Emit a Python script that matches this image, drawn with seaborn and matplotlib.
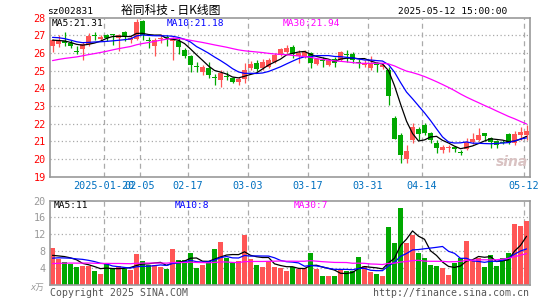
import numpy as np
import pandas as pd
import matplotlib
matplotlib.use("Agg")
import matplotlib.pyplot as plt
import seaborn as sns

sns.set_style("white")
plt.rcParams['font.family'] = ['DejaVu Sans Mono', 'Noto Sans CJK SC']

# ---------------- data ----------------
open_ = [26.42, 26.52, 26.68, 26.56, 26.12, 26.22, 26.52, 26.98, 26.78, 27.02,
         27.04, 26.84, 27.16, 26.72, 26.78, 27.80, 26.74, 26.40, 26.80, 26.88,
         26.66, 26.68, 26.15, 25.85, 25.22, 24.92, 25.17, 24.64, 24.47, 24.70,
         24.57, 24.38, 24.50, 25.13, 25.41, 25.13, 25.22, 25.50, 25.89, 26.07,
         26.36, 25.80, 25.79, 25.99, 25.38, 25.60, 25.32, 25.64, 25.60, 25.92,
         25.92, 25.45, 25.30, 25.13, 25.34, 25.22, 25.05, 22.30, 21.35, 20.00,
         21.05, 21.68, 21.92, 21.45, 20.93, 20.52, 20.62, 20.68, 20.40, 20.55,
         20.95, 21.08, 21.45, 21.17, 21.00, 20.97, 21.42, 20.90, 21.35, 21.38]
high = [26.80, 27.02, 27.20, 26.74, 26.40, 26.64, 27.15, 27.20, 27.00, 27.10,
        27.10, 27.10, 27.24, 27.00, 27.90, 27.88, 26.92, 26.83, 27.10, 27.00,
        26.92, 26.83, 26.26, 25.90, 25.50, 25.32, 25.47, 24.80, 25.04, 24.94,
        24.66, 24.66, 25.45, 25.52, 25.60, 25.64, 25.70, 25.98, 26.30, 26.45,
        26.45, 26.17, 26.17, 26.05, 25.70, 25.79, 25.65, 25.79, 26.12, 26.17,
        26.07, 25.64, 25.60, 25.83, 25.50, 25.40, 25.20, 22.45, 21.45, 20.80,
        22.02, 21.83, 22.02, 21.55, 21.08, 20.80, 20.80, 20.74, 20.51, 21.17,
        21.45, 21.77, 21.50, 21.27, 21.08, 21.08, 21.50, 21.60, 21.80, 21.92]
low = [26.08, 26.32, 26.40, 26.26, 25.92, 25.62, 26.40, 26.75, 26.70, 26.70,
       26.45, 26.10, 26.70, 26.55, 26.72, 26.74, 26.26, 25.80, 26.58, 26.40,
       25.58, 25.95, 25.74, 24.90, 24.90, 24.76, 24.56, 24.20, 24.10, 24.47,
       24.28, 24.20, 24.28, 25.04, 25.00, 25.05, 25.15, 25.45, 25.80, 25.98,
       25.70, 25.45, 25.70, 25.13, 25.30, 25.22, 25.25, 25.22, 25.55, 25.50,
       25.41, 25.13, 25.20, 25.04, 24.90, 25.10, 23.05, 21.15, 19.75, 19.75,
       20.90, 21.08, 21.36, 20.90, 20.36, 20.32, 20.42, 20.42, 20.23, 20.50,
       20.85, 21.00, 21.00, 20.60, 20.60, 20.85, 20.85, 20.80, 21.07, 21.05]
close = [26.72, 26.70, 26.58, 26.38, 26.06, 26.48, 26.95, 26.94, 26.90, 26.85,
         27.00, 27.02, 26.92, 26.84, 27.75, 27.02, 26.68, 26.76, 26.86, 26.82,
         26.78, 26.36, 25.84, 25.32, 25.18, 25.22, 24.75, 24.58, 24.85, 24.64,
         24.38, 24.50, 25.04, 25.36, 25.07, 25.50, 25.60, 25.89, 26.20, 26.26,
         25.94, 25.98, 26.04, 25.41, 25.64, 25.55, 25.60, 25.41, 26.07, 25.88,
         25.60, 25.41, 25.45, 25.41, 25.30, 25.30, 23.55, 21.15, 20.25, 20.45,
         21.83, 21.42, 21.46, 21.08, 20.62, 20.70, 20.68, 20.56, 20.36, 20.98,
         21.12, 21.36, 21.28, 20.98, 20.80, 20.93, 20.93, 21.42, 21.53, 21.60]
volume = [8.8, 6.1, 5.4, 5.0, 4.2, 4.5, 4.5, 3.2, 2.5, 4.9,
          3.9, 4.4, 3.6, 3.5, 7.3, 5.6, 4.7, 4.6, 4.2, 3.7,
          8.45, 5.8, 5.8, 7.6, 4.0, 4.6, 5.6, 8.45, 10.2, 6.3,
          5.2, 5.5, 11.85, 6.0, 4.6, 4.25, 5.55, 4.25, 4.0, 3.2,
          4.2, 3.6, 4.0, 7.6, 3.6, 2.0, 2.0, 2.0, 3.8, 3.3,
          3.3, 6.6, 4.4, 3.0, 2.6, 2.0, 13.8, 10.0, 18.3, 10.0,
          11.85, 7.5, 6.3, 4.6, 4.4, 4.0, 2.3, 5.1, 6.3, 10.3,
          5.5, 6.25, 4.15, 7.1, 4.4, 6.3, 7.6, 14.4, 14.0, 15.2]
# closes / volumes before the window (only used for the moving averages)
prior_close = [24.7, 24.9, 25.1, 24.8, 24.6, 24.9, 25.2, 25.0, 24.8, 24.7,
               24.9, 25.1, 25.0, 24.8, 24.9, 25.0, 24.8, 24.9, 25.1, 25.0,
               26.9, 27.1, 27.2, 27.0, 27.0, 26.8, 26.7, 26.8, 26.6]
prior_volume = [4.2, 4.5, 4.0, 4.8, 4.3, 4.1, 4.6, 4.4, 4.0, 4.5,
                4.3, 4.7, 4.2, 4.1, 4.4, 4.6, 4.3, 4.2, 4.5, 4.3,
                5.2, 5.8, 5.5, 5.9, 5.6, 6.8, 6.2, 6.5, 6.5]

tick_labels = ["2025-01-20", "02-05", "02-17", "03-03", "03-17", "03-31", "04-14", "05-12"]
tick_index = [9, 15, 23, 33, 43, 53, 62, 79]
price_ma_text = ["MA5:21.31", "MA10:21.18", "MA30:21.94"]
vol_ma_text = ["MA5:11", "MA10:8", "MA30:7"]

# ---------------- derived ----------------
n = len(close)
idx = np.arange(n)
full_c = pd.Series(prior_close + close)
full_v = pd.Series(prior_volume + volume)
k0 = len(prior_close)
ma_c = {w: full_c.rolling(w, min_periods=1).mean().values[k0:] for w in (5, 10, 30)}
ma_v = {w: full_v.rolling(w, min_periods=1).mean().values[k0:] for w in (5, 10, 30)}

RED = "#FF5555"
GREEN = "#00A800"
MA_COL = {5: "black", 10: "#0000FF", 30: "#FF00FF"}
GRID = "#AAAAAA"
GRID_OFF = -0.42

W, H = 545, 300
fig = plt.figure(figsize=(W / 100, H / 100), dpi=100)
fig.patch.set_facecolor("white")

def rect(l, t, r, b):
    return [l / W, 1 - b / H, (r - l) / W, (b - t) / H]

ax1 = fig.add_axes(rect(50, 17.6, 530, 176.7))
ax2 = fig.add_axes(rect(50, 200.7, 530, 284.5))

for ax in (ax1, ax2):
    for s in ax.spines.values():
        s.set_color("#999999")
        s.set_linewidth(1.2)
    for k in tick_index:
        ax.axvline(k + GRID_OFF, color=GRID, lw=0.9, ls=(0, (4, 3)), zorder=0)

# price panel
for p in range(20, 28):
    ax1.axhline(p, color=GRID, lw=0.9, ls=(0, (1, 2)), zorder=0)

up = np.array(close) >= np.array(open_)
cols = [RED if u else GREEN for u in up]
ax1.vlines(idx, low, high, colors=cols, lw=0.9, zorder=2)
bot = np.minimum(open_, close)
hgt = np.maximum(np.abs(np.array(close) - np.array(open_)), 0.06)
ax1.bar(idx, hgt, bottom=bot, width=0.78, color=cols, lw=0, zorder=3)

for w in (5, 10, 30):
    sns.lineplot(x=idx, y=ma_c[w], color=MA_COL[w], lw=0.9, ax=ax1, zorder=4)

ax1.set_xlim(-0.42, 79.58)
ax1.set_ylim(19, 28)
ax1.set_yticks(range(19, 29))
ax1.set_yticklabels([str(v) for v in range(19, 29)], color="#FF0000", fontsize=7.3)
ax1.set_xticks([k + GRID_OFF for k in tick_index])
ax1.set_xticklabels(tick_labels, color="#0070C0", fontsize=7.3)
ax1.tick_params(length=0, pad=3)
ax1.set_xlabel("")
ax1.set_ylabel("")

# volume panel
vdf = pd.DataFrame({"i": idx, "v": volume, "dir": ["up" if u else "down" for u in up]})
sns.barplot(data=vdf, x="i", y="v", hue="dir", palette={"up": RED, "down": GREEN},
            native_scale=True, dodge=False, width=0.83, saturation=1, linewidth=0,
            legend=False, ax=ax2, zorder=2)
for w in (5, 10, 30):
    sns.lineplot(x=idx, y=ma_v[w], color=MA_COL[w], lw=0.9, ax=ax2, zorder=4)
ax2.set_xlim(-0.42, 79.58)
ax2.set_ylim(0, 20)
for p in (4, 8, 12, 16):
    ax2.axhline(p, color=GRID, lw=0.9, ls=(0, (1, 2)), zorder=0)
ax2.set_yticks([4, 8, 12, 16, 20])
ax2.set_yticklabels(["4", "8", "12", "16", "20"], color="#999999", fontsize=7.3)
ax2.set_xticks([])
ax2.tick_params(length=0, pad=3)
ax2.set_xlabel("")
ax2.set_ylabel("")

# texts
def ftext(x, y, s, **kw):
    fig.text(x / W, 1 - y / H, s, va="center", **kw)

ftext(47, 11, "sz002831", fontsize=6.8, color="black")
ftext(171, 10, "裕同科技 - 日K线图", fontsize=8.5, color="black", ha="center",
      family=["Noto Sans CJK SC", "DejaVu Sans"])
ftext(507, 11, "2025-05-12 15:00:00", fontsize=6.8, color="black", ha="right")
for x, s, w in zip((52, 167, 283), price_ma_text, (5, 10, 30)):
    ftext(x, 23.5, s, fontsize=6.8, color=MA_COL[w])
for x, s, w in zip((54, 175, 294), vol_ma_text, (5, 10, 30)):
    ftext(x, 206, s, fontsize=6.8, color=MA_COL[w])
ftext(30, 287, "x万", fontsize=6.2, color="#999999", style="italic")
ftext(50, 293, "Copyright 2025 SINA.COM", fontsize=7.1, color="#555555")
ftext(529, 293, "http://finance.sina.com.cn", fontsize=7.1, color="#555555", ha="right")
ftext(512, 162, "sina", fontsize=10, color="#D9C2C2", ha="center",
      style="italic", weight="bold", family=["DejaVu Sans"])

fig.savefig("out.png", dpi=100, facecolor="white")
